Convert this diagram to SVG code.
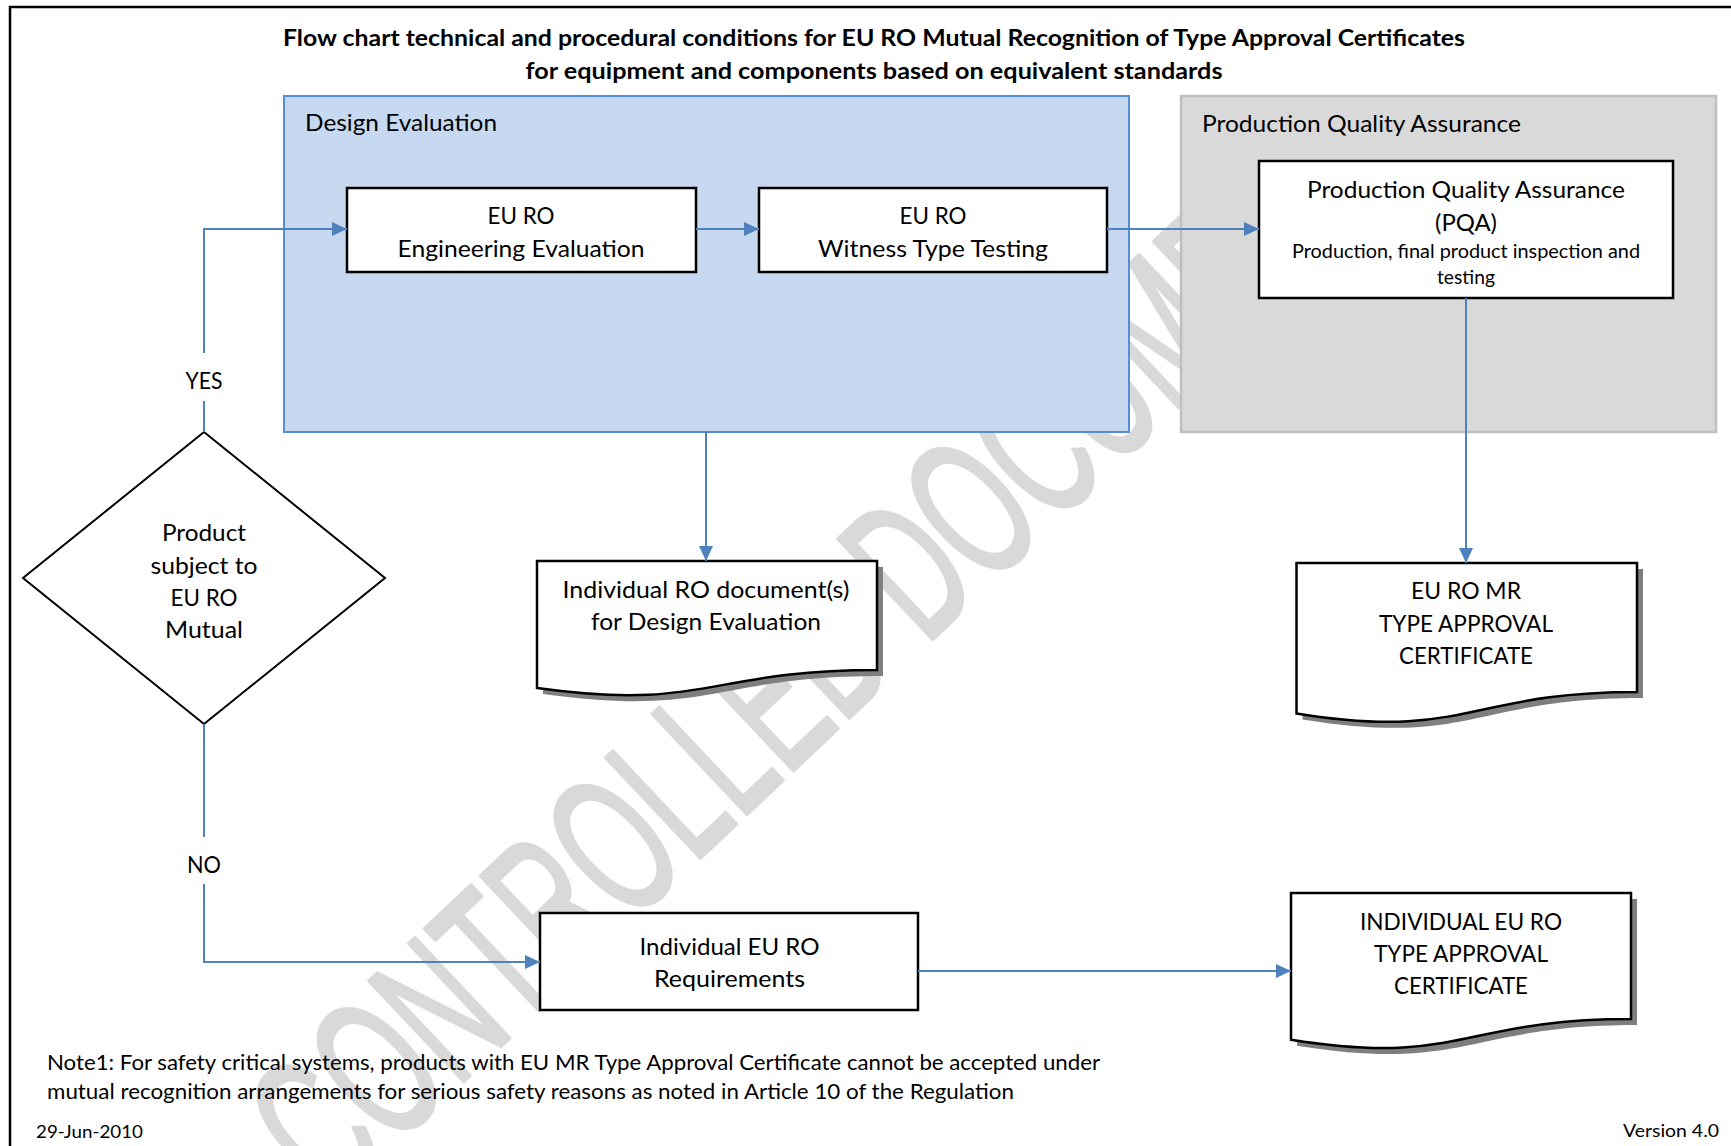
<svg xmlns="http://www.w3.org/2000/svg" width="1731" height="1146" viewBox="0 0 1731 1146">
<defs>
<style>
text{font-family:Lato,"Open Sans","Liberation Sans",sans-serif;fill:#000}
.t{font-size:23px}
.ttl{font-size:23px;font-weight:bold}
.sm{font-size:18.5px}
.nt{font-size:21px}
.ft{font-size:18px}
.cap{font-size:24px}
.c{text-anchor:middle}
.box{fill:#fff;stroke:#000;stroke-width:2.5}
.shadow{fill:#7f7f7f}
.conn{fill:none;stroke:#4f81bd;stroke-width:2}
.wm{font-family:"Liberation Sans",Arial,sans-serif;font-size:200px;fill:#d9d9d9;stroke:#d9d9d9;stroke-width:4;stroke-linejoin:round}
</style>
<clipPath id="wmclip">
<rect x="0" y="98" width="1731" height="1048"/>
</clipPath>
<marker id="arr" markerUnits="userSpaceOnUse" markerWidth="16" markerHeight="14" refX="15" refY="7" orient="auto">
<path d="M0,0 L15,7 L0,14 z" fill="#4f81bd"/>
</marker>
</defs>
<rect x="0" y="0" width="1731" height="1146" fill="#fff"/>
<g id="watermark" clip-path="url(#wmclip)">
<text class="wm" transform="translate(331,1206) rotate(-43.3)" x="0" y="0" textLength="1480" lengthAdjust="spacingAndGlyphs">CONTROLLED DOCUMENT</text>
</g>
<g id="frame">
<path d="M10,1146 V7 H1731" fill="none" stroke="#000" stroke-width="2.5"/>
</g>
<g id="title">
<text class="ttl c" x="874" y="46" textLength="1182" lengthAdjust="spacingAndGlyphs">Flow chart technical and procedural conditions for EU RO Mutual Recognition of Type Approval Certificates</text>
<text class="ttl c" x="874" y="79" textLength="697" lengthAdjust="spacingAndGlyphs">for equipment and components based on equivalent standards</text>
</g>
<g id="design-evaluation">
<rect x="284" y="96" width="845" height="336" fill="#c6d9f1" stroke="#558ed5" stroke-width="2"/>
<text class="t" x="305" y="131" textLength="192" lengthAdjust="spacingAndGlyphs">Design Evaluation</text>
</g>
<g id="production-quality-assurance">
<rect x="1181" y="96" width="535" height="336" fill="#d9d9d9" stroke="#bfbfbf" stroke-width="2.5"/>
<text class="t" x="1202" y="132" textLength="319" lengthAdjust="spacingAndGlyphs">Production Quality Assurance</text>
</g>
<g id="engineering-evaluation">
<rect class="box" x="347" y="188" width="349" height="84"/>
<text class="t c" x="521" y="224" textLength="67" lengthAdjust="spacingAndGlyphs">EU RO</text>
<text class="t c" x="521" y="257" textLength="247" lengthAdjust="spacingAndGlyphs">Engineering Evaluation</text>
</g>
<g id="witness-type-testing">
<rect class="box" x="759" y="188" width="348" height="84"/>
<text class="t c" x="933" y="224" textLength="67" lengthAdjust="spacingAndGlyphs">EU RO</text>
<text class="t c" x="933" y="257" textLength="230" lengthAdjust="spacingAndGlyphs">Witness Type Testing</text>
</g>
<g id="pqa">
<rect class="box" x="1259" y="161" width="414" height="137"/>
<text class="t c" x="1466" y="198" textLength="318" lengthAdjust="spacingAndGlyphs">Production Quality Assurance</text>
<text class="t c" x="1466" y="231" textLength="62" lengthAdjust="spacingAndGlyphs">(PQA)</text>
<text class="sm c" x="1466" y="257.5" textLength="348" lengthAdjust="spacingAndGlyphs">Production, final product inspection and</text>
<text class="sm c" x="1466" y="283.5" textLength="58" lengthAdjust="spacingAndGlyphs">testing</text>
</g>
<g id="decision">
<polygon points="204,432 385,578 204,724 23,578" fill="#fff" stroke="#000" stroke-width="2"/>
<text class="t c" x="204" y="541" textLength="84" lengthAdjust="spacingAndGlyphs">Product</text>
<text class="t c" x="204" y="574" textLength="107" lengthAdjust="spacingAndGlyphs">subject to</text>
<text class="t c" x="204" y="606" textLength="67" lengthAdjust="spacingAndGlyphs">EU RO</text>
<text class="t c" x="204" y="638" textLength="78" lengthAdjust="spacingAndGlyphs">Mutual</text>
</g>
<g id="ro-documents">
<path class="shadow" d="M543,567 H883 V676 C713,676 713,717.6 543,694 Z"/>
<path class="box" d="M537,561 H877 V670 C707,670 707,711.6 537,688 Z"/>
<text class="t c" x="706" y="598" textLength="287" lengthAdjust="spacingAndGlyphs">Individual RO document(s)</text>
<text class="t c" x="706" y="630" textLength="230" lengthAdjust="spacingAndGlyphs">for Design Evaluation</text>
</g>
<g id="mr-certificate">
<path class="shadow" d="M1302.5,569 H1643 V698 C1472.8,698 1472.8,747 1302.5,719.4 Z"/>
<path class="box" d="M1296.5,563 H1637 V692 C1466.8,692 1466.8,741 1296.5,713.4 Z"/>
<text class="cap c" x="1466" y="599" textLength="110" lengthAdjust="spacingAndGlyphs">EU RO MR</text>
<text class="cap c" x="1466" y="632" textLength="174" lengthAdjust="spacingAndGlyphs">TYPE APPROVAL</text>
<text class="cap c" x="1466" y="664" textLength="134" lengthAdjust="spacingAndGlyphs">CERTIFICATE</text>
</g>
<g id="requirements">
<rect class="box" x="540" y="913" width="378" height="97"/>
<text class="t c" x="729.5" y="955" textLength="180" lengthAdjust="spacingAndGlyphs">Individual EU RO</text>
<text class="t c" x="729.5" y="987" textLength="151" lengthAdjust="spacingAndGlyphs">Requirements</text>
</g>
<g id="individual-certificate">
<path class="shadow" d="M1297,899 H1637 V1025 C1467,1025 1467,1072.8 1297,1045.7 Z"/>
<path class="box" d="M1291,893 H1631 V1019 C1461,1019 1461,1066.8 1291,1039.7 Z"/>
<text class="cap c" x="1461" y="930" textLength="202" lengthAdjust="spacingAndGlyphs">INDIVIDUAL EU RO</text>
<text class="cap c" x="1461" y="962" textLength="174" lengthAdjust="spacingAndGlyphs">TYPE APPROVAL</text>
<text class="cap c" x="1461" y="994" textLength="134" lengthAdjust="spacingAndGlyphs">CERTIFICATE</text>
</g>
<g id="connectors">
<path class="conn" d="M204,432 V401"/>
<path class="conn" d="M204,353 V229 H347" marker-end="url(#arr)"/>
<path class="conn" d="M696,229 H759" marker-end="url(#arr)"/>
<path class="conn" d="M1107,229 H1259" marker-end="url(#arr)"/>
<path class="conn" d="M1466,298 V563" marker-end="url(#arr)"/>
<path class="conn" d="M706,432 V561" marker-end="url(#arr)"/>
<path class="conn" d="M204,724 V837"/>
<path class="conn" d="M204,884 V962 H540" marker-end="url(#arr)"/>
<path class="conn" d="M918,971 H1291" marker-end="url(#arr)"/>
<text class="t c" x="204" y="389" textLength="37" lengthAdjust="spacingAndGlyphs">YES</text>
<text class="t c" x="204" y="873" textLength="34" lengthAdjust="spacingAndGlyphs">NO</text>
</g>
<g id="notes">
<text class="nt" x="47" y="1069.5" textLength="1053" lengthAdjust="spacingAndGlyphs">Note1: For safety critical systems, products with EU MR Type Approval Certificate cannot be accepted under</text>
<text class="nt" x="47" y="1098.5" textLength="967" lengthAdjust="spacingAndGlyphs">mutual recognition arrangements for serious safety reasons as noted in Article 10 of the Regulation</text>
<text class="ft" x="36" y="1138" textLength="107" lengthAdjust="spacingAndGlyphs">29-Jun-2010</text>
<text class="ft" x="1623" y="1137" textLength="96" lengthAdjust="spacingAndGlyphs">Version 4.0</text>
</g>
</svg>
